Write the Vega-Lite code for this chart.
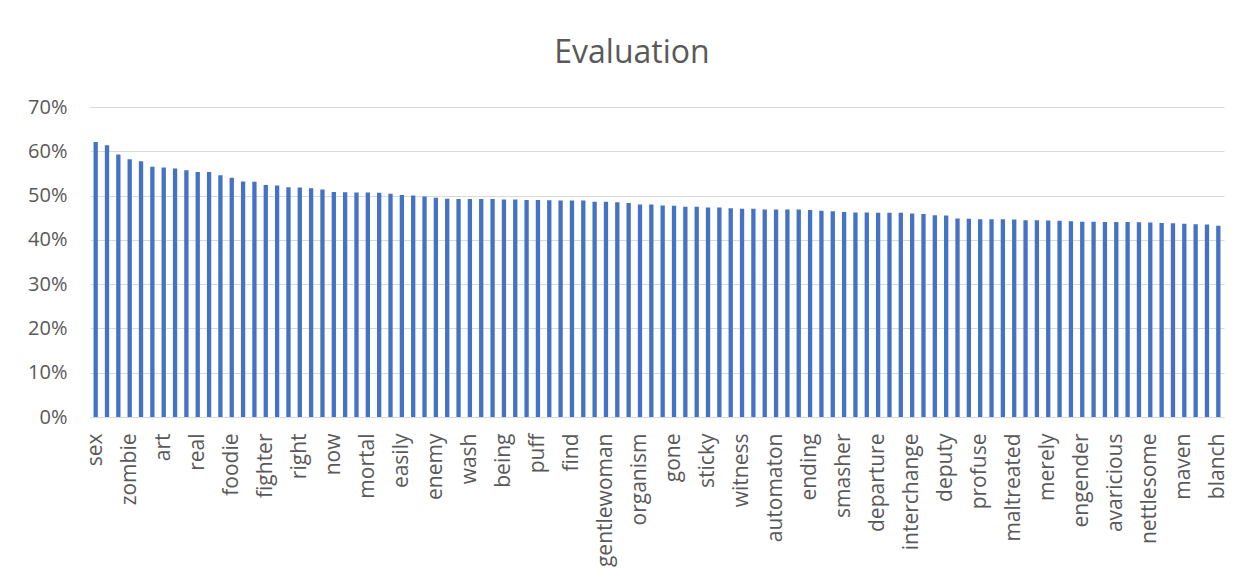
{
  "$schema": "https://vega.github.io/schema/vega-lite/v6.json",
  "width": 1134,
  "height": 310,
  "autosize": {"type": "none"},
  "padding": {"left": 90, "top": 107, "right": 22, "bottom": 163},
  "background": "white",
  "title": {
    "text": "Evaluation",
    "font": "Open Sans",
    "fontSize": 32,
    "fontWeight": "normal",
    "color": "#595959",
    "anchor": "middle",
    "baseline": "alphabetic",
    "offset": 44,
    "dx": -25,
    "dy": 42
  },
  "data": {
    "values": [
      {"word": "sex", "score": 0.621},
      {"word": "_1", "score": 0.6135},
      {"word": "_2", "score": 0.5925},
      {"word": "zombie", "score": 0.582},
      {"word": "_4", "score": 0.5775},
      {"word": "_5", "score": 0.565},
      {"word": "art", "score": 0.5635},
      {"word": "_7", "score": 0.561},
      {"word": "_8", "score": 0.557},
      {"word": "real", "score": 0.553},
      {"word": "_10", "score": 0.553},
      {"word": "_11", "score": 0.546},
      {"word": "foodie", "score": 0.5405},
      {"word": "_13", "score": 0.532},
      {"word": "_14", "score": 0.531},
      {"word": "fighter", "score": 0.524},
      {"word": "_16", "score": 0.5225},
      {"word": "_17", "score": 0.519},
      {"word": "right", "score": 0.518},
      {"word": "_19", "score": 0.5165},
      {"word": "_20", "score": 0.5135},
      {"word": "now", "score": 0.508},
      {"word": "_22", "score": 0.5075},
      {"word": "_23", "score": 0.507},
      {"word": "mortal", "score": 0.507},
      {"word": "_25", "score": 0.5065},
      {"word": "_26", "score": 0.504},
      {"word": "easily", "score": 0.5015},
      {"word": "_28", "score": 0.5},
      {"word": "_29", "score": 0.498},
      {"word": "enemy", "score": 0.495},
      {"word": "_31", "score": 0.493},
      {"word": "_32", "score": 0.4925},
      {"word": "wash", "score": 0.4925},
      {"word": "_34", "score": 0.4925},
      {"word": "_35", "score": 0.492},
      {"word": "being", "score": 0.491},
      {"word": "_37", "score": 0.491},
      {"word": "_38", "score": 0.49},
      {"word": "puff", "score": 0.49},
      {"word": "_40", "score": 0.4895},
      {"word": "_41", "score": 0.489},
      {"word": "find", "score": 0.489},
      {"word": "_43", "score": 0.489},
      {"word": "_44", "score": 0.486},
      {"word": "gentlewoman", "score": 0.486},
      {"word": "_46", "score": 0.485},
      {"word": "_47", "score": 0.483},
      {"word": "organism", "score": 0.48},
      {"word": "_49", "score": 0.48},
      {"word": "_50", "score": 0.4775},
      {"word": "gone", "score": 0.477},
      {"word": "_52", "score": 0.475},
      {"word": "_53", "score": 0.4745},
      {"word": "sticky", "score": 0.473},
      {"word": "_55", "score": 0.473},
      {"word": "_56", "score": 0.4715},
      {"word": "witness", "score": 0.4705},
      {"word": "_58", "score": 0.4705},
      {"word": "_59", "score": 0.4685},
      {"word": "automaton", "score": 0.4685},
      {"word": "_61", "score": 0.4685},
      {"word": "_62", "score": 0.4685},
      {"word": "ending", "score": 0.4675},
      {"word": "_64", "score": 0.466},
      {"word": "_65", "score": 0.4645},
      {"word": "smasher", "score": 0.463},
      {"word": "_67", "score": 0.4615},
      {"word": "_68", "score": 0.4615},
      {"word": "departure", "score": 0.461},
      {"word": "_70", "score": 0.461},
      {"word": "_71", "score": 0.461},
      {"word": "interchange", "score": 0.4595},
      {"word": "_73", "score": 0.4585},
      {"word": "_74", "score": 0.4555},
      {"word": "deputy", "score": 0.455},
      {"word": "_76", "score": 0.448},
      {"word": "_77", "score": 0.4478},
      {"word": "profuse", "score": 0.4465},
      {"word": "_79", "score": 0.4465},
      {"word": "_80", "score": 0.4465},
      {"word": "maltreated", "score": 0.446},
      {"word": "_82", "score": 0.4445},
      {"word": "_83", "score": 0.4445},
      {"word": "merely", "score": 0.4435},
      {"word": "_85", "score": 0.443},
      {"word": "_86", "score": 0.442},
      {"word": "engender", "score": 0.441},
      {"word": "_88", "score": 0.441},
      {"word": "_89", "score": 0.4405},
      {"word": "avaricious", "score": 0.4405},
      {"word": "_91", "score": 0.4405},
      {"word": "_92", "score": 0.4395},
      {"word": "nettlesome", "score": 0.439},
      {"word": "_94", "score": 0.438},
      {"word": "_95", "score": 0.4375},
      {"word": "maven", "score": 0.4365},
      {"word": "_97", "score": 0.435},
      {"word": "_98", "score": 0.4345},
      {"word": "blanch", "score": 0.432}
    ]
  },
  "mark": {"type": "bar", "color": "#4472C4"},
  "encoding": {
    "x": {
      "field": "word",
      "type": "nominal",
      "sort": null,
      "scale": {"paddingInner": 0.62, "paddingOuter": 0.31},
      "axis": {
        "title": null,
        "values": ["sex", "zombie", "art", "real", "foodie", "fighter", "right", "now", "mortal", "easily", "enemy", "wash", "being", "puff", "find", "gentlewoman", "organism", "gone", "sticky", "witness", "automaton", "ending", "smasher", "departure", "interchange", "deputy", "profuse", "maltreated", "merely", "engender", "avaricious", "nettlesome", "maven", "blanch"],
        "labelAngle": -90,
        "labelAlign": "right",
        "labelBaseline": "middle",
        "labelFont": "Open Sans",
        "labelFontSize": 21,
        "labelColor": "#595959",
        "labelPadding": 16,
        "labelOverlap": false,
        "ticks": false,
        "domain": true,
        "domainColor": "#d9d9d9",
        "domainWidth": 1,
        "grid": false
      }
    },
    "y": {
      "field": "score",
      "type": "quantitative",
      "scale": {"domain": [0, 0.7], "nice": false},
      "axis": {
        "title": null,
        "values": [0, 0.1, 0.2, 0.3, 0.4, 0.5, 0.6, 0.7],
        "format": ".0%",
        "labelFont": "Open Sans",
        "labelFontSize": 20,
        "labelColor": "#595959",
        "labelPadding": 23,
        "ticks": false,
        "domain": false,
        "grid": true,
        "gridColor": "#d9d9d9",
        "gridWidth": 1
      }
    }
  },
  "config": {
    "view": {"stroke": null}
  }
}
